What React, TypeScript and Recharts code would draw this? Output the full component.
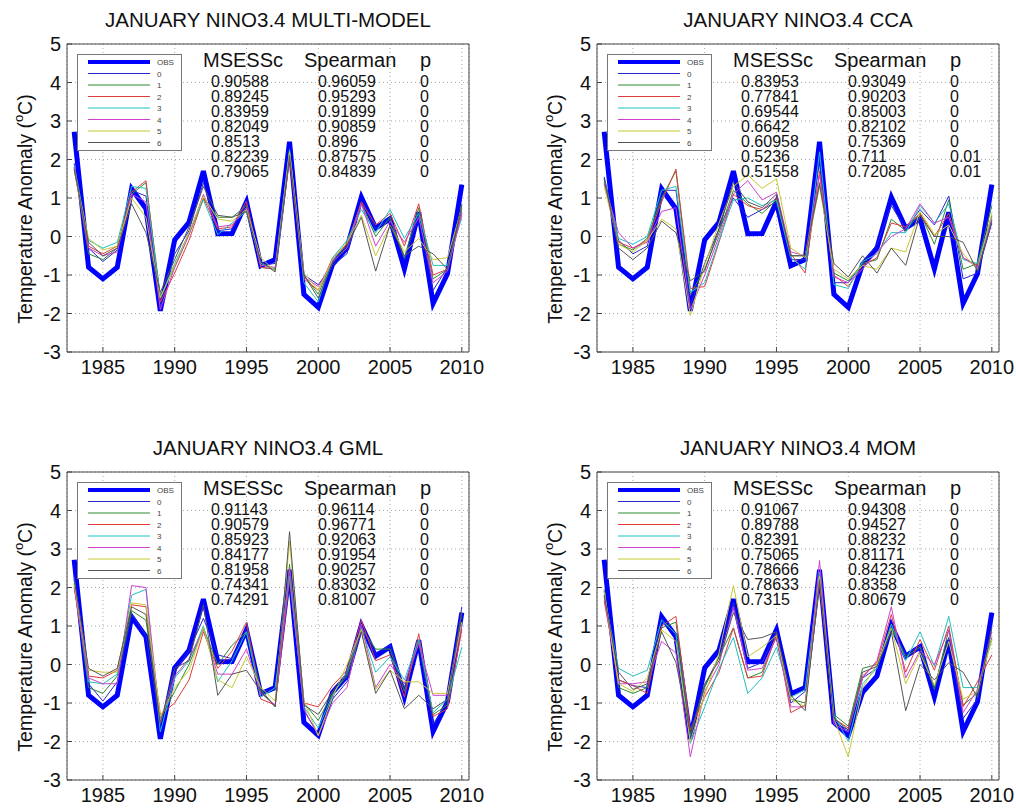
import React from 'react';
import { LineChart, Line, XAxis, YAxis, CartesianGrid, Legend } from 'recharts';

const YEARS = [
  1983, 1984, 1985, 1986, 1987, 1988, 1989, 1990, 1991, 1992, 1993, 1994, 1995, 1996,
  1997, 1998, 1999, 2000, 2001, 2002, 2003, 2004, 2005, 2006, 2007, 2008, 2009, 2010,
];
const X_TICKS = [1985, 1990, 1995, 2000, 2005, 2010];
const Y_TICKS = [-3, -2, -1, 0, 1, 2, 3, 4, 5];

const OBS = [
  2.72, -0.8, -1.1, -0.8, 1.24, 0.72, -1.93, -0.09, 0.37, 1.7, 0.07, 0.08, 0.9, -0.76,
  -0.6, 2.46, -1.5, -1.84, -0.72, -0.3, 1.02, 0.22, 0.46, -0.84, 0.63, -1.74, -0.97, 1.35,
];

const LEADS = ['0', '1', '2', '3', '4', '5', '6'];
const LEAD_COLORS = ['#2828d0', '#2e8b2e', '#e03c3c', '#1fc0c0', '#d040d0', '#c8c832', '#555555'];

// one row per year, columns = lead 0..6
const MULTI_MODEL_ROWS = [
  [1.9, 1.8, 1.75, 1.85, 1.8, 1.7, 1.75],
  [-0.3, -0.45, -0.25, -0.1, -0.3, -0.05, -0.15],
  [-0.65, -0.6, -0.45, -0.3, -0.5, -0.35, -0.5],
  [-0.35, -0.3, -0.25, -0.15, -0.4, -0.25, -0.3],
  [1.2, 1.1, 1.15, 1.3, 1.1, 1.0, 0.85],
  [1.05, 1.4, 1.45, 1.25, 0.9, 0.5, 0.1],
  [-1.8, -1.55, -1.7, -1.6, -1.9, -1.6, -1.45],
  [-0.45, -0.8, -0.95, -0.7, -0.8, -0.75, -0.6],
  [0.15, 0.05, -0.1, 0.1, 0.05, 0.1, 0.25],
  [1.4, 1.0, 1.0, 0.95, 1.1, 1.05, 1.3],
  [0.15, 0.5, 0.2, 0.05, 0.25, 0.45, 0.55],
  [0.2, 0.5, 0.25, 0.35, 0.3, 0.4, 0.5],
  [0.85, 0.8, 0.92, 0.65, 0.75, 0.7, 0.65],
  [-0.75, -0.8, -0.8, -0.7, -0.75, -0.55, -0.65],
  [-0.7, -0.85, -0.85, -0.85, -0.8, -0.9, -0.92],
  [2.3, 2.2, 2.0, 2.25, 2.1, 2.2, 2.1],
  [-1.0, -1.0, -1.1, -1.2, -1.05, -0.95, -1.0],
  [-1.25, -1.5, -1.4, -1.7, -1.3, -1.4, -1.6],
  [-0.75, -0.6, -0.55, -0.55, -0.65, -0.6, -0.7],
  [-0.45, -0.2, -0.2, -0.1, -0.3, -0.15, -0.25],
  [0.9, 0.85, 0.9, 0.7, 0.85, 0.55, 0.5],
  [0.2, 0.0, 0.3, 0.1, -0.25, -0.5, -0.9],
  [0.45, 0.5, 0.6, 0.7, 0.4, 0.3, 0.3],
  [-0.6, -0.55, -0.25, -0.05, -0.15, -0.4, -0.5],
  [0.55, 0.75, 0.85, 0.6, 0.5, -0.05, -0.25],
  [-1.4, -1.1, -1.0, -0.75, -1.2, -0.6, -0.45],
  [-0.8, -0.85, -0.85, -0.75, -0.9, -0.55, -0.85],
  [0.7, 0.85, 0.6, 0.5, 0.6, 0.75, 0.8],
];

const CCA_ROWS = [
  [1.55, 1.5, 1.4, 1.45, 1.35, 1.3, 1.5],
  [-0.1, -0.2, -0.15, -0.05, 0.1, -0.2, -0.3],
  [-0.45, -0.35, -0.3, -0.2, -0.3, -0.4, -0.6],
  [-0.25, -0.05, -0.1, 0.0, -0.15, -0.1, -0.3],
  [1.2, 1.0, 0.9, 1.2, 0.65, 0.45, 0.4],
  [1.2, 1.7, 1.75, 1.3, 0.75, 0.2, 0.1],
  [-1.8, -1.5, -1.35, -1.45, -1.9, -2.05, -1.15],
  [-0.7, -0.85, -1.3, -1.2, -1.0, -0.75, -0.9],
  [0.2, 0.1, -0.15, -0.1, 0.0, 0.35, 0.2],
  [1.0, 1.2, 1.1, 0.95, 1.1, 1.3, 1.4],
  [0.5, 0.85, 0.8, 1.0, 1.45, 1.6, 0.9],
  [0.7, 0.6, 0.7, 0.8, 0.95, 1.25, 0.75],
  [0.9, 0.95, 1.0, 0.95, 1.15, 1.5, 1.1],
  [-0.6, -0.5, -0.45, -0.55, -0.4, -0.3, -0.5],
  [-0.6, -0.5, -0.95, -0.85, -0.5, -0.55, -0.5],
  [2.0, 1.4, 1.7, 2.2, 1.6, 1.3, 1.35],
  [-1.2, -0.95, -1.0, -1.25, -1.05, -0.85, -0.7],
  [-1.2, -1.15, -1.3, -1.35, -1.2, -1.1, -1.05],
  [-0.7, -0.7, -0.75, -0.65, -0.85, -0.75, -0.5],
  [-0.2, -0.6, -0.55, -0.45, -0.4, -0.85, -0.95],
  [0.8, 0.45, 0.35, 0.1, 0.0, -0.3, -0.3],
  [0.2, 0.15, 0.25, 0.1, 0.2, -0.4, -0.75],
  [0.7, 0.6, 0.6, 0.8, 0.85, 0.65, 0.55],
  [0.3, -0.2, 0.0, 0.35, 0.35, 0.05, 0.0],
  [1.05, 0.95, 0.6, 0.85, 0.5, 0.3, 0.0],
  [-1.1, -0.85, -0.55, -0.6, -0.55, -0.45, -0.15],
  [-0.95, -0.7, -0.75, -0.7, -0.8, -0.85, -0.9],
  [0.35, 0.8, 0.55, 0.5, 0.45, 0.6, 0.4],
];

const GML_ROWS = [
  [2.3, 2.1, 2.0, 2.2, 2.0, 2.1, 2.2],
  [-0.5, -0.6, -0.3, -0.45, -0.35, -0.15, -0.1],
  [-0.95, -0.75, -0.35, -0.5, -0.5, -0.2, -0.3],
  [-0.45, -0.3, -0.15, -0.25, -0.5, -0.2, -0.1],
  [1.3, 1.4, 1.55, 1.8, 2.05, 1.6, 1.5],
  [0.75, 1.15, 1.5, 1.95, 2.0, 1.55, 1.3],
  [-1.55, -1.4, -1.3, -1.75, -1.5, -1.35, -1.55],
  [-0.2, -0.7, -1.0, -0.35, -0.3, -0.6, -0.1],
  [0.35, 0.0, -0.4, 0.1, 0.15, -0.15, 0.1],
  [1.2, 0.95, 0.85, 1.0, 0.9, 0.95, 1.55],
  [0.25, 0.0, -0.1, -0.45, -0.25, -0.4, -0.8],
  [0.15, 0.5, 0.35, 0.1, -0.25, -0.6, -0.25],
  [0.95, 0.85, 1.1, 0.85, 0.4, 0.2, -0.15],
  [-0.7, -0.65, -0.9, -0.85, -0.75, -0.6, -0.7],
  [-0.65, -1.1, -1.05, -0.6, -1.05, -0.95, -1.1],
  [2.4, 2.6, 2.2, 2.3, 2.5, 3.2, 3.45],
  [-1.2, -1.0, -1.0, -1.1, -1.15, -0.95, -1.05],
  [-1.8, -1.45, -1.1, -1.65, -1.85, -1.85, -1.3],
  [-0.9, -0.75, -0.55, -0.8, -1.0, -0.85, -0.7],
  [-0.45, -0.3, -0.15, -0.2, -0.6, 0.0, -0.25],
  [0.95, 0.95, 1.15, 0.95, 1.05, 0.9, 0.85],
  [0.3, 0.4, 0.1, -0.2, -0.6, -0.65, -0.75],
  [0.5, 0.4, 0.25, 0.2, 0.0, -0.15, -0.15],
  [-0.6, -0.7, -0.85, -0.4, -0.5, -0.45, -1.15],
  [0.55, 0.6, 0.8, 0.65, 0.55, -0.45, -0.8],
  [-1.55, -1.3, -1.35, -1.25, -0.8, -0.75, -1.15],
  [-0.95, -1.05, -1.15, -0.9, -0.8, -0.75, -0.9],
  [1.5, 1.35, 0.9, 0.45, 1.0, 1.1, 1.35],
];

const MOM_ROWS = [
  [1.9, 1.95, 1.65, 1.8, 1.75, 1.9, 1.8],
  [-0.4, -0.6, -0.4, -0.1, -0.5, -0.5, -0.2],
  [-0.55, -0.75, -0.55, -0.3, -0.5, -0.7, -0.65],
  [-0.6, -0.6, -0.75, -0.15, -0.45, -0.35, -0.5],
  [1.2, 0.95, 1.0, 1.15, 0.6, 0.9, 0.85],
  [0.75, 1.1, 1.25, 0.8, 0.3, 0.6, 0.05],
  [-1.9, -1.85, -1.7, -2.05, -2.4, -2.0, -1.8],
  [-0.55, -0.6, -0.85, -1.1, -0.7, -0.8, -0.5],
  [0.2, 0.2, -0.2, -0.1, 0.0, 0.3, 0.1],
  [1.6, 0.95, 0.95, 0.7, 1.5, 2.05, 1.35],
  [-0.1, -0.35, -0.35, -0.75, -0.15, 0.2, 0.65],
  [0.05, -0.2, -0.3, -0.35, -0.1, 0.45, 0.7],
  [0.85, 0.75, 0.8, 0.45, 0.7, 0.75, 0.85],
  [-1.0, -0.9, -1.25, -0.85, -1.1, -0.9, -0.8],
  [-0.7, -1.0, -1.05, -0.65, -1.1, -1.1, -1.2],
  [2.4, 2.3, 2.1, 2.4, 2.7, 2.3, 2.2],
  [-1.5, -1.3, -1.4, -1.3, -1.55, -1.4, -1.4],
  [-1.7, -1.6, -1.65, -2.0, -1.75, -2.4, -1.7],
  [-0.35, -0.1, -0.3, -0.5, -0.35, -0.6, -0.2],
  [-0.1, 0.0, 0.05, -0.1, 0.1, 0.0, -0.05],
  [1.0, 0.95, 1.3, 1.05, 1.5, 0.95, 0.85],
  [0.25, 0.2, -0.2, 0.1, -0.35, -0.5, -1.2],
  [0.5, 0.45, 0.65, 0.85, 0.35, 0.3, 0.0],
  [-0.6, -0.65, -0.15, -0.05, 0.0, -0.55, -0.4],
  [0.7, 0.9, 1.0, 1.25, 0.9, 0.6, 0.05],
  [-1.4, -1.05, -1.1, -0.6, -1.25, -0.9, -0.2],
  [-0.9, -0.75, -0.45, -0.6, -0.65, -0.7, -0.85],
  [1.0, 0.7, 0.25, 0.65, 0.85, 0.65, 0.95],
];

const MULTI_MODEL_MSESS = ['0.90588', '0.89245', '0.83959', '0.82049', '0.8513', '0.82239', '0.79065'];
const MULTI_MODEL_SPEARMAN = ['0.96059', '0.95293', '0.91899', '0.90859', '0.896', '0.87575', '0.84839'];
const MULTI_MODEL_P = ['0', '0', '0', '0', '0', '0', '0'];

const CCA_MSESS = ['0.83953', '0.77841', '0.69544', '0.6642', '0.60958', '0.5236', '0.51558'];
const CCA_SPEARMAN = ['0.93049', '0.90203', '0.85003', '0.82102', '0.75369', '0.711', '0.72085'];
const CCA_P = ['0', '0', '0', '0', '0', '0.01', '0.01'];

const GML_MSESS = ['0.91143', '0.90579', '0.85923', '0.84177', '0.81958', '0.74341', '0.74291'];
const GML_SPEARMAN = ['0.96114', '0.96771', '0.92063', '0.91954', '0.90257', '0.83032', '0.81007'];
const GML_P = ['0', '0', '0', '0', '0', '0', '0'];

const MOM_MSESS = ['0.91067', '0.89788', '0.82391', '0.75065', '0.78666', '0.78633', '0.7315'];
const MOM_SPEARMAN = ['0.94308', '0.94527', '0.88232', '0.81171', '0.84236', '0.8358', '0.80679'];
const MOM_P = ['0', '0', '0', '0', '0', '0', '0'];

const CW = 508;
const CH = 404;
const PLOT_L = 67;
const FRAME = '#444';

const YLabel = () => (
  <text transform="translate(25,209) rotate(-90)" textAnchor="middle" fontSize={19.5} fill="#111" dy={7}>
    Temperature Anomaly (<tspan fontSize={13} dy={-9}>o</tspan><tspan dy={9}>C)</tspan>
  </text>
);

const LegendBox = () => (
  <svg width={106} height={98} style={{ display: 'block' }}>
    <rect x={0.5} y={0.5} width={104} height={96} fill="#fff" stroke="#777" />
    <line x1={11} x2={73} y1={8} y2={8} stroke="#0000ff" strokeWidth={4} />
    <text x={80} y={11} fontSize={8} fill="#444">OBS</text>
    {LEADS.map((lead, k) => (
      <g key={lead}>
        <line x1={11} x2={73} y1={19.5 + k * 11.5} y2={19.5 + k * 11.5} stroke={LEAD_COLORS[k]} strokeWidth={1} />
        <text x={80} y={22.5 + k * 11.5} fontSize={8} fill="#444">{lead}</text>
      </g>
    ))}
  </svg>
);

interface PanelProps {
  left: number;
  top: number;
  title: string;
  rows: number[][];
  msess: string[];
  spearman: string[];
  pvals: string[];
}

const Panel: React.FC<PanelProps> = ({ left, top, title, rows, msess, spearman, pvals }) => {
  const data = YEARS.map((year, i) => {
    const row: Record<string, number> = { year, obs: OBS[i] };
    rows[i].forEach((v, k) => {
      row['lead' + k] = v;
    });
    return row;
  });

  return (
    <div style={{ position: 'absolute', left, top, width: CW, height: CH }}>
      <div style={{ position: 'absolute', left: PLOT_L, width: 402, top: 8, textAlign: 'center', fontSize: 20.5, color: '#111', lineHeight: '24px' }}>
        {title}
      </div>
      <LineChart width={CW} height={CH} data={data} margin={{ top: 43, right: 38, bottom: 12, left: 7 }}>
        <CartesianGrid stroke="#a8a8a8" strokeDasharray="1 3" />
        <XAxis
          dataKey="year"
          type="number"
          domain={[1982.5, 2010.5]}
          ticks={X_TICKS}
          height={40}
          tickSize={-5}
          tickMargin={13}
          stroke={FRAME}
          tick={{ fill: '#111', fontSize: 20 }}
        />
        <XAxis
          xAxisId="top"
          orientation="top"
          dataKey="year"
          type="number"
          domain={[1982.5, 2010.5]}
          ticks={X_TICKS}
          height={1}
          tickSize={-5}
          tick={false}
          stroke={FRAME}
        />
        <YAxis
          type="number"
          domain={[-3, 5]}
          ticks={Y_TICKS}
          width={60}
          tickSize={-5}
          tickMargin={11}
          stroke={FRAME}
          tick={{ fill: '#111', fontSize: 20 }}
          label={<YLabel />}
        />
        <YAxis
          yAxisId="right"
          orientation="right"
          type="number"
          domain={[-3, 5]}
          ticks={Y_TICKS}
          width={1}
          tickSize={-5}
          tick={false}
          stroke={FRAME}
        />
        <Legend layout="vertical" align="center" verticalAlign="middle" wrapperStyle={{ left: 77, top: 54, width: 106 }} content={() => <LegendBox />} />
        <Line dataKey="obs" stroke="#0000ff" strokeWidth={5} dot={false} isAnimationActive={false} />
        {LEADS.map((lead, k) => (
          <Line
            key={lead}
            dataKey={'lead' + k}
            name={lead}
            stroke={LEAD_COLORS[k]}
            strokeWidth={1}
            dot={false}
            isAnimationActive={false}
          />
        ))}
      </LineChart>
      <div style={{ position: 'absolute', left: 203, top: 49, fontSize: 20, lineHeight: '22px', color: '#111' }}>MSESSc</div>
      <div style={{ position: 'absolute', left: 304, top: 49, fontSize: 20, lineHeight: '22px', color: '#111' }}>Spearman</div>
      <div style={{ position: 'absolute', left: 420, top: 49, fontSize: 20, lineHeight: '22px', color: '#111' }}>p</div>
      {msess.map((m, i) => (
        <React.Fragment key={i}>
          <div style={{ position: 'absolute', left: 211, top: 74 + i * 15, fontSize: 16, lineHeight: '15px', color: '#111' }}>{m}</div>
          <div style={{ position: 'absolute', left: 318, top: 74 + i * 15, fontSize: 16, lineHeight: '15px', color: '#111' }}>{spearman[i]}</div>
          <div style={{ position: 'absolute', left: 420, top: 74 + i * 15, fontSize: 16, lineHeight: '15px', color: '#111' }}>{pvals[i]}</div>
        </React.Fragment>
      ))}
    </div>
  );
};

export default function App() {
  return (
    <div style={{ position: 'absolute', left: 0, top: 0, width: 1016, height: 809, background: '#fff', fontFamily: '"Liberation Sans", Arial, sans-serif' }}>
      <Panel left={0} top={0} title="JANUARY NINO3.4 MULTI-MODEL" rows={MULTI_MODEL_ROWS} msess={MULTI_MODEL_MSESS} spearman={MULTI_MODEL_SPEARMAN} pvals={MULTI_MODEL_P} />
      <Panel left={530} top={0} title="JANUARY NINO3.4 CCA" rows={CCA_ROWS} msess={CCA_MSESS} spearman={CCA_SPEARMAN} pvals={CCA_P} />
      <Panel left={0} top={428} title="JANUARY NINO3.4 GML" rows={GML_ROWS} msess={GML_MSESS} spearman={GML_SPEARMAN} pvals={GML_P} />
      <Panel left={530} top={428} title="JANUARY NINO3.4 MOM" rows={MOM_ROWS} msess={MOM_MSESS} spearman={MOM_SPEARMAN} pvals={MOM_P} />
    </div>
  );
}
